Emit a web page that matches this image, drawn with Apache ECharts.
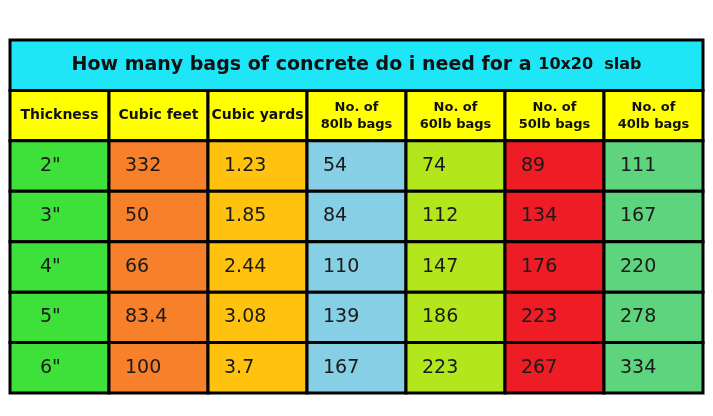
<!DOCTYPE html>
<html>
<head>
<meta charset="utf-8">
<script src="https://cdn.jsdelivr.net/npm/echarts@6/dist/echarts.min.js"></script>
<style>html,body{margin:0;padding:0;background:#fff}#main{width:713px;height:416px}</style>
</head>
<body>
<div id="main"></div>
<script>
var headers = ['Thickness', 'Cubic feet', 'Cubic yards', 'No. of\n80lb bags', 'No. of\n60lb bags', 'No. of\n50lb bags', 'No. of\n40lb bags'];
var thickness = ['2"', '3"', '4"', '5"', '6"'];
var cubicFeet = ['332', '50', '66', '83.4', '100'];
var cubicYards = ['1.23', '1.85', '2.44', '3.08', '3.7'];
var bags80 = [54, 84, 110, 139, 167];
var bags60 = [74, 112, 147, 186, 223];
var bags50 = [89, 134, 176, 223, 267];
var bags40 = [111, 167, 220, 278, 334];
var colColors = ['#3ee03a', '#f7802a', '#ffc20e', '#86cfe4', '#b4e61d', '#ee1c24', '#5fd47e'];

var columns = [thickness, cubicFeet, cubicYards, bags80, bags60, bags50, bags40];
var rows = ['title', 'header', 'r1', 'r2', 'r3', 'r4', 'r5'];

var cells = [];
// title spans the whole first row
cells.push({ value: [0, 0, 'title'] });
headers.forEach(function (h, c) { cells.push({ value: [c, 1, h] }); });
columns.forEach(function (col, c) {
	col.forEach(function (v, r) { cells.push({ value: [c, r + 2, String(v)] }); });
});

var chart = echarts.init(document.getElementById('main'));
chart.setOption({
	animation: false,
	backgroundColor: '#fff',
	grid: { left: 10, right: 10, top: 40, bottom: 23 },
	xAxis: { type: 'category', data: headers, show: false },
	yAxis: { type: 'category', data: rows, inverse: true, show: false },
	series: [{
		type: 'custom',
		data: cells,
		renderItem: function (params, api) {
			var c = api.value(0), r = api.value(1), txt = api.value(2);
			var p = api.coord([c, r]);
			var s = api.size([1, 1]);
			var x = p[0] - s[0] / 2, y = p[1] - s[1] / 2, w = s[0], h = s[1];
			var fill, style;
			if (r === 0) {
				w = s[0] * headers.length;
				fill = '#1fe6f7';
				return {
					type: 'group',
					children: [
						{ type: 'rect', shape: { x: x, y: y, width: w, height: h }, style: { fill: fill, stroke: '#000', lineWidth: 3 } },
						{ type: 'text', style: {
							x: x + w / 2, y: y + h / 2, align: 'center', verticalAlign: 'middle',
							text: '{a|How many bags of concrete do i need for a }{b|10x20  slab}',
							rich: {
								a: { fontFamily: 'DejaVu Sans', fontSize: 19, fontWeight: 'bold', fill: '#111' },
								b: { fontFamily: 'DejaVu Sans', fontSize: 16, fontWeight: 'bold', fill: '#111' }
							}
						} }
					]
				};
			}
			if (r === 1) {
				fill = '#ffff00';
				style = { x: x + w / 2, y: y + h / 2, align: 'center', verticalAlign: 'middle', text: txt,
					fontFamily: 'DejaVu Sans', fontWeight: 'bold', fontSize: txt.indexOf('\n') > 0 ? 13 : 14, lineHeight: 17, fill: '#111' };
			} else {
				fill = colColors[c];
				style = { x: c === 0 ? x + 30 : x + 16, y: y + h / 2, align: 'left', verticalAlign: 'middle', text: txt,
					fontFamily: 'DejaVu Sans', fontSize: 19, fill: '#1a1a1a' };
			}
			return {
				type: 'group',
				children: [
					{ type: 'rect', shape: { x: x, y: y, width: w, height: h }, style: { fill: fill, stroke: '#000', lineWidth: 3 } },
					{ type: 'text', style: style }
				]
			};
		}
	}]
});
</script>
</body>
</html>
